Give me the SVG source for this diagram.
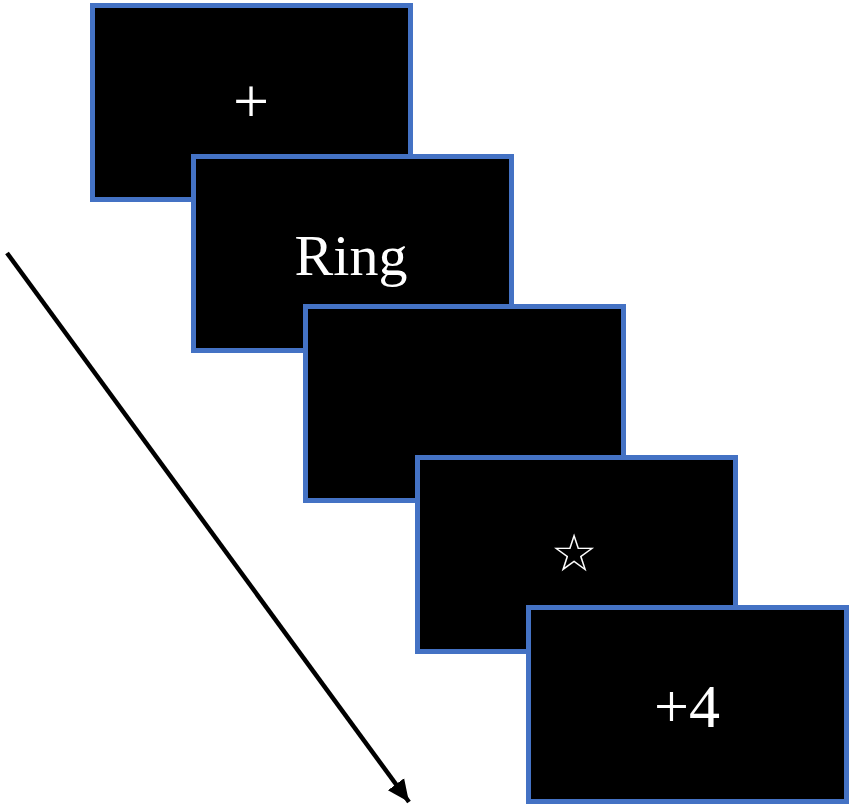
<svg xmlns="http://www.w3.org/2000/svg" width="851" height="808" viewBox="0 0 851 808">
<style>
.screen{fill:#000;stroke:#4472C4;stroke-width:5}
.t{fill:#fff;font-family:"Liberation Serif","Times New Roman",serif;text-anchor:middle}
.sym{fill:#fff;font-family:"DejaVu Sans",sans-serif;text-anchor:middle}
</style>
<defs>
<marker id="ah" markerUnits="userSpaceOnUse" markerWidth="24" markerHeight="24" refX="22" refY="10" orient="auto" viewBox="0 0 24 20">
<path d="M0,0 L22,10 L0,20 z" fill="#000"/>
</marker>
</defs>
<rect width="851" height="808" fill="#fff"/>
<g id="connectors">
<line x1="7" y1="253" x2="409" y2="802" stroke="#000" stroke-width="4.5" marker-end="url(#ah)"/>
</g>
<g id="screen1">
<rect class="screen" x="92.5" y="5.5" width="318" height="194"/>
<text class="t" x="251" y="123" font-size="64">+</text>
</g>
<g id="screen2">
<rect class="screen" x="193.5" y="156.5" width="318" height="194"/>
<text class="t" x="351" y="275" font-size="58">Ring</text>
</g>
<g id="screen3">
<rect class="screen" x="305.5" y="306.5" width="318" height="194"/>
</g>
<g id="screen4">
<rect class="screen" x="417.5" y="457.5" width="318" height="194"/>
<text class="sym" x="574" y="571" font-size="52">☆</text>
</g>
<g id="screen5">
<rect class="screen" x="528.5" y="607.5" width="318" height="194"/>
<text class="t" x="687" y="727" font-size="62">+4</text>
</g>
</svg>
